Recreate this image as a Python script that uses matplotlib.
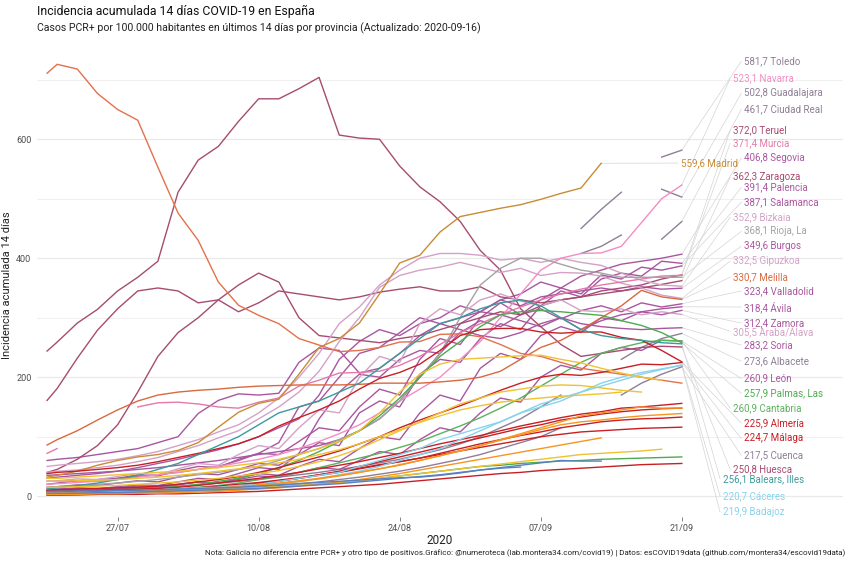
import matplotlib
matplotlib.use("Agg")
import matplotlib.pyplot as plt
import matplotlib.dates as mdates
import numpy as np
import pandas as pd

N = None

# ── eje temporal: día 0 = 20/07/2020, luego días impares hasta el 63 (21/09) ──
DIAS = [0] + list(range(1, 64, 2))

# ── Castilla-La Mancha ──
toledo = [N] * 27 + [408, 420, 439, N, 570, 581.7]
guadalajara = [N] * 27 + [450, 482, 511, N, 516, 502.8]
ciudad_real = [N] * 30 + [N, 432, 461.7]
albacete = [10, 10, 11, 12, 13, 14, 15, 17, 19, 22, 25, 28, 32, 36, 40, 45, 50, 56, 62, 70, 78, 88,
            100, 115, 130, 150, 170, N, N, 230, 250, 265, 273.6]
cuenca = [5, 5, 5, 6, 6, 7, 8, 9, 10, 12, 14, 16, 18, 21, 24, 28, 32, 37, 42, 48, 55, 62,
          70, 80, 90, 100, 115, N, N, 170, 190, 205, 217.5]

# ── Castilla y León ──
segovia = [30, 32, 35, 38, 42, 48, 55, 62, 70, 78, 88, 100, 115, 130, 170, 230, 260, 280, 270, 290, 300, 320,
           310, 330, 340, 360, 350, 370, 380, 390, 395, 400, 406.8]
palencia = [15, 16, 19, 18, 22, 26, 24, 32, 38, 36, 45, 55, 52, 70, 90, 85, 140, 160, 150, 205, 230, 225,
            265, 290, 280, 320, 345, 335, 365, 375, 370, 395, 391.4]
salamanca = [20, 22, 26, 25, 30, 36, 34, 43, 50, 48, 62, 72, 70, 92, 115, 110, 150, 180, 170, 230, 265, 255,
             300, 325, 305, 330, 350, 340, 372, 365, 385, 380, 387.1]
burgos = [60, 62, 65, 70, 75, 80, 90, 100, 139, 161, 172, 170, 173, 225, 249, 245, 207, 215, 240, 270, 290, 300,
          310, 330, 320, 335, 340, 345, 350, 345, 352, 348, 349.6]
valladolid = [10, 11, 13, 12, 16, 19, 18, 24, 30, 28, 38, 48, 45, 72, 130, 175, 205, 200, 230, 245, 240, 275,
              295, 285, 305, 315, 298, 312, 320, 310, 325, 318, 323.4]
avila = [25, 25, 26, 28, 30, 33, 36, 40, 45, 50, 60, 72, 90, 150, 160, 200, 240, 250, 275, 300, 290, 280,
         270, 265, 275, 290, 300, 280, 295, 305, 310, 315, 318.4]
zamora = [8, 8, 10, 9, 12, 15, 14, 19, 24, 22, 30, 38, 35, 50, 62, 58, 80, 100, 95, 140, 170, 160,
          215, 240, 230, 270, 285, 275, 300, 295, 310, 305, 312.4]
soria = [35, 36, 38, 40, 42, 45, 48, 52, 56, 60, 65, 70, 75, 80, 85, 95, 110, 130, 160, 200, 240, 290,
         310, 305, 295, 285, 300, 290, 285, 282, 280, 282, 283.2]
leon = [12, 12, 14, 13, 15, 17, 16, 20, 24, 22, 28, 34, 32, 40, 48, 45, 60, 75, 70, 95, 115, 108,
        140, 165, 158, 200, 220, 212, 240, 250, 245, 262, 260.9]

# ── Aragón ──
zaragoza = [161, 181, 232, 279, 315, 345, 350, 345, 325, 330, 310, 325, 345, 340, 335, 330, 335, 343, 348, 352, 345, 345,
            352, 335, 330, 325, 330, 335, 340, 345, 350, 356, 362.3]
huesca = [244, 259, 291, 314, 345, 368, 395, 511, 565, 588, 630, 668, 668, 685, 704, 607, 602, 600, 555, 520, 495, 462,
          413, 380, 315, 285, 255, 235, 240, 245, 250, 252, 250.8]
teruel = [40, 45, 62, 85, 120, 175, 235, 275, 300, 330, 355, 375, 360, 300, 270, 266, 262, 258, 265, 270, 280, 290,
          300, 310, 305, 320, 330, 335, 345, 350, 355, 365, 372.0]

# ── País Vasco ──
bizkaia = [50, 52, 55, 58, 62, 68, 75, 85, 95, 108, 120, 140, 165, 200, 240, 290, 318, 355, 380, 400, 408, 408,
           405, 397, 400, 393, 400, 393, 388, 375, 363, 355, 352.9]
gipuzkoa = [40, 42, 44, 48, 52, 58, 65, 75, 85, 98, 110, 130, 150, 175, 210, 260, 300, 351, 371, 380, 385, 393,
            385, 376, 383, 371, 376, 375, 370, 358, 350, 338, 332.5]
araba = [25, 26, 29, 28, 33, 38, 36, 46, 55, 52, 70, 85, 80, 115, 145, 140, 200, 235, 225, 290, 315, 305,
         330, 340, 328, 320, 330, 312, 310, 315, 305, 310, 305.5]

# ── resto ──
navarra = [20, 21, 23, 25, 28, 32, 36, 40, 45, 50, 56, 62, 70, 80, 92, 105, 120, 140, 160, 180, 200, 230,
           260, 300, 340, 380, 400, 408, 409, 420, 460, 500, 523.1]
murcia = [72, 80, N, N, N, 150, 157, 158, 155, 150, 148, 158, 165, 185, 195, 207, 208, 210, 220, 235, 255, 275,
          290, 305, 318, 330, 340, 348, 355, 360, 365, 370, 371.4]
madrid = [32, 35, 42, 52, 60, 66, 70, 77, 90, 116, 141, 156, 163, 205, 250, 265, 291, 340, 392, 405, 444, 470,
          477, 484, 490, 499, 509, 518, 559.6, N, N, N, N]
rioja = [15, 16, 18, 20, 22, 25, 28, 32, 36, 40, 45, 50, 60, 70, 80, 95, 110, 130, 160, 200, 240, 300,
         355, 383, 400, 400, 390, 380, 375, 368, 368, 368, 368.1]
melilla = [86, 95, 110, 128, 145, 160, 170, 175, 178, 180, 183, 185, 186, 187, 187, 187, 188, 190, 190, 190, 192, 195,
           200, 210, 230, 250, 262, 280, 300, 320, 346, 335, 330.7]
lleida = [711, 726, 718, 677, 650, 632, 553, 476, 430, 360, 321, 304, 290, 265, 254, 243, 245, 250, 259, 260, 272, 273,
          268, 255, 240, 235, 225, 215, 210, 205, 200, 195, 190]
palmas = [8, 8, 9, 10, 11, 12, 14, 16, 20, 25, 30, 38, 48, 60, 75, 92, 110, 135, 165, 200, 235, 260,
          285, 305, 310, 312, 310, 307, 304, 295, 287, 275, 257.9]
santa_cruz = [4, 4, 5, 5, 6, 6, 7, 8, 9, 10, 12, 14, 16, 18, 20, 23, 26, 30, 34, 38, 42, 46,
              50, 52, 55, 57, 59, 60, 62, 63, 64, 65, 66]
cantabria = [5, 5, 6, 7, 8, 9, 10, 12, 15, 18, 22, 28, 34, 40, 48, 56, 64, 72, 82, 92, 105, 118,
             132, 148, 165, 185, 205, 225, 240, 250, 258, 262, 260.9]
almeria = [38, 40, 42, 45, 48, 52, 58, 65, 72, 80, 88, 100, 118, 132, 145, 160, 180, 198, 208, 222, 245, 270,
           280, 282, 282, 276, 274, 276, 276, 267, 262, 245, 225.9]
malaga = [10, 11, 12, 13, 14, 15, 17, 20, 24, 28, 33, 40, 48, 57, 66, 76, 88, 100, 115, 128, 140, 152,
          165, 178, 190, 200, 205, 203, 208, 215, 222, 221, 224.7]
granada = [8, 8, 9, 10, 11, 12, 13, 15, 18, 22, 26, 30, 35, 40, 46, 52, 58, 65, 72, 80, 88, 95,
           102, 110, 118, 125, 132, 138, 142, 148, 150, 153, 156]
cordoba = [3, 3, 4, 4, 5, 6, 7, 9, 12, 15, 18, 22, 26, 30, 35, 40, 46, 52, 58, 64, 72, 80,
           88, 95, 102, 108, 115, 120, 125, 128, 130, 131, 133]
sevilla = [5, 5, 6, 7, 8, 9, 10, 12, 14, 17, 20, 23, 27, 31, 36, 41, 47, 53, 58, 64, 70, 76,
           82, 88, 94, 100, 104, 108, 110, 112, 114, 115, 116]
cadiz = [2, 2, 3, 3, 4, 5, 6, 8, 10, 13, 16, 20, 25, 30, 36, 42, 50, 58, 66, 74, 82, 90,
         98, 106, 114, 120, 128, 133, 138, 142, 145, 147, 148]
jaen = [2, 2, 2, 3, 3, 3, 4, 4, 5, 6, 7, 8, 10, 12, 14, 16, 18, 20, 23, 26, 29, 32,
        35, 38, 40, 43, 45, 47, 49, 51, 53, 54, 55]
balears = [12, 14, 18, 22, 28, 35, 45, 55, 70, 85, 100, 120, 140, 150, 160, 175, 190, 215, 240, 265, 290, 300,
           315, 325, 330, 320, 300, 280, 270, 265, 262, 258, 256.1]
caceres = [5, 5, 6, 6, 7, 8, 10, 12, 14, 15, 18, 20, 25, 30, 35, 40, 50, 60, 70, 80, 95, 105,
           115, 125, 140, 150, 160, 175, 185, 195, 205, 213, 220.7]
badajoz = [3, 3, 4, 5, 5, 6, 7, 8, 10, 12, 14, 17, 20, 24, 30, 36, 42, 50, 60, 70, 80, 95,
           110, 125, 140, 155, 165, 175, 190, 200, 208, 214, 219.9]
barcelona = [30, 30, 32, 34, 36, 38, 40, 42, 45, 48, 52, 56, 62, 70, 80, 92, 110, 140, 175, 205, 222, 230,
             232, 234, 236, 237, 230, 224, 215, 207, 200, 195, N]
girona = [15, 15, 16, 17, 18, 20, 22, 24, 27, 30, 34, 38, 43, 50, 58, 68, 80, 95, 110, 125, 140, 155,
          165, 175, 180, 185, 187, 186, 182, 178, 175, N, N]
tarragona = [25, 25, 26, 27, 28, 30, 32, 35, 38, 42, 46, 50, 56, 62, 70, 78, 88, 100, 112, 124, 135, 145,
             152, 158, 162, 165, 168, 170, 172, 175, N, N, N]
ceuta = [5, 5, 6, 6, 7, 7, 8, 9, 10, 11, 12, 14, 16, 18, 20, 23, 26, 30, 34, 38, 42, 46,
         50, 54, 58, 62, 66, 70, 72, 74, 76, 79, N]
valencia = [5, 5, 6, 6, 7, 8, 9, 10, 12, 14, 16, 19, 22, 26, 30, 35, 40, 46, 52, 60, 68, 76,
            85, 95, 105, 115, 125, 135, 140, 145, 150, 148, 148]
alicante = [4, 4, 5, 5, 6, 7, 8, 9, 11, 13, 15, 18, 21, 25, 29, 34, 40, 46, 53, 60, 68, 76,
            85, 94, 103, 112, 120, 125, 128, 132, 135, 137, 139]
castellon = [3, 3, 3, 4, 4, 5, 5, 6, 7, 8, 10, 12, 14, 17, 20, 24, 28, 33, 38, 44, 50, 56,
             62, 68, 74, 80, 86, 92, 98, N, N, N, N]
coruna = [8, 8, 9, 9, 10, 10, 11, 12, 13, 14, 15, 17, 19, 21, 23, 25, 27, 29, 31, 32, 35, 39,
          44, 47, 49, N, N, N, N, N, N, N, N]
pontevedra = [5, 5, 5, 6, 6, 7, 8, 9, 10, 11, 12, 13, 15, 17, 19, 21, 24, 27, 30, 33, 36, 40,
              44, 48, 52, 56, 60, 59, 59, N, N, N, N]

# ── colores por comunidad ──
C_CLM, C_CYL, C_ARA, C_PV = "#8f7f96", "#a9569f", "#a64c70", "#d4a1c7"
C_NAV, C_MUR, C_MAD, C_RIO = "#f48cc3", "#e47aa9", "#c98b35", "#a3a3a3"
C_MEL, C_LLE, C_CNR, C_CNT = "#d9693f", "#e3714c", "#4dab4f", "#5cb15e"
C_AND, C_BAL, C_EXT = "#c81f25", "#3b9b9b", "#87d3ec"
C_CAT, C_VAL, C_GAL = "#f0c130", "#f7951f", "#5b80c2"

# (nombre, valores, color) — nombre None = sin etiqueta
series = [
    ("Toledo", toledo, C_CLM), ("Guadalajara", guadalajara, C_CLM), ("Ciudad Real", ciudad_real, C_CLM),
    ("Albacete", albacete, C_CLM), ("Cuenca", cuenca, C_CLM),
    ("Segovia", segovia, C_CYL), ("Palencia", palencia, C_CYL), ("Salamanca", salamanca, C_CYL),
    ("Burgos", burgos, C_CYL), ("Valladolid", valladolid, C_CYL), ("Ávila", avila, C_CYL),
    ("Zamora", zamora, C_CYL), ("Soria", soria, C_CYL), ("León", leon, C_CYL),
    ("Zaragoza", zaragoza, C_ARA), ("Huesca", huesca, C_ARA), ("Teruel", teruel, C_ARA),
    ("Bizkaia", bizkaia, C_PV), ("Gipuzkoa", gipuzkoa, C_PV), ("Araba/Álava", araba, C_PV),
    ("Navarra", navarra, C_NAV), ("Murcia", murcia, C_MUR), ("Madrid", madrid, C_MAD),
    ("Rioja, La", rioja, C_RIO), ("Melilla", melilla, C_MEL), (None, lleida, C_LLE),
    ("Palmas, Las", palmas, C_CNR), (None, santa_cruz, C_CNR), ("Cantabria", cantabria, C_CNT),
    ("Almería", almeria, C_AND), ("Málaga", malaga, C_AND), (None, granada, C_AND),
    (None, cordoba, C_AND), (None, sevilla, C_AND), (None, cadiz, C_AND), (None, jaen, C_AND),
    ("Balears, Illes", balears, C_BAL), ("Cáceres", caceres, C_EXT), ("Badajoz", badajoz, C_EXT),
    (None, barcelona, C_CAT), (None, girona, C_CAT), (None, tarragona, C_CAT), (None, ceuta, C_CAT),
    (None, valencia, C_VAL), (None, alicante, C_VAL), (None, castellon, C_VAL),
    (None, coruna, C_GAL), (None, pontevedra, C_GAL),
]

# posición de las etiquetas (día desde 20/07, valor en el eje y)
etiq_nombre = ["Toledo", "Navarra", "Guadalajara", "Ciudad Real", "Teruel", "Murcia", "Segovia", "Madrid",
               "Zaragoza", "Palencia", "Salamanca", "Bizkaia", "Rioja, La", "Burgos", "Gipuzkoa", "Melilla",
               "Valladolid", "Ávila", "Zamora", "Araba/Álava", "Soria", "Albacete", "León", "Palmas, Las",
               "Cantabria", "Almería", "Málaga", "Cuenca", "Huesca", "Balears, Illes", "Cáceres", "Badajoz"]
etiq_dia = [69.2, 68.1, 69.2, 69.2, 68.1, 68.1, 69.2, 62.9,
            68.1, 69.2, 69.2, 68.1, 69.2, 69.2, 68.1, 68.1,
            69.2, 69.2, 69.2, 68.1, 69.2, 69.2, 69.2, 69.2,
            68.1, 69.2, 69.2, 69.2, 68.1, 67.1, 67.1, 67.1]
etiq_y = [731, 702, 677, 650, 615, 593, 568, 560,
          536, 519, 494, 469, 445, 420, 395, 368,
          345, 318, 291, 277, 254, 227, 198, 173,
          148, 123, 97, 69, 45, 29, 0, -27]

TITULO = "Incidencia acumulada 14 días COVID-19 en España"
SUBTITULO = "Casos PCR+ por 100.000 habitantes en últimos 14 días por provincia (Actualizado: 2020-09-16)"
NOTA = ("Nota: Galicia no diferencia entre PCR+ y otro tipo de positivos.Gráfico: @numeroteca "
        "(lab.montera34.com/covid19) | Datos: esCOVID19data (github.com/montera34/escovid19data)")

plt.rcParams["font.family"] = ["Roboto", "DejaVu Sans"]

inicio = pd.Timestamp("2020-07-20")
fechas = inicio + pd.to_timedelta(DIAS, unit="D")

fig = plt.figure(figsize=(8.48, 5.65), dpi=100)
ax = fig.add_axes([37 / 848, 48 / 565, 806 / 848, 464 / 565])

etiq_por_nombre = {n: (d, y) for n, d, y in zip(etiq_nombre, etiq_dia, etiq_y)}

for nombre, valores, color in series:
    v = np.array(valores, dtype=float)
    ax.plot(fechas, v, color=color, lw=1.0, solid_joinstyle="round", zorder=2)
    if nombre is None:
        continue
    i_fin = np.where(~np.isnan(v))[0][-1]
    x_fin, y_fin = fechas[i_fin], v[i_fin]
    d_lab, y_lab = etiq_por_nombre[nombre]
    x_lab = inicio + pd.Timedelta(days=d_lab)
    ax.plot([x_fin, x_lab - pd.Timedelta(days=0.3)], [y_fin, y_lab], color="#d4d4d4", lw=0.5, zorder=1)
    txt = f"{y_fin:.1f}".replace(".", ",") + " " + nombre
    ax.text(x_lab, y_lab, txt, color=color, fontsize=7, ha="left", va="center", zorder=3)

ax.set_xlim(inicio - pd.Timedelta(days=1), inicio + pd.Timedelta(days=79))
ax.set_ylim(-35, 745)

ax.set_xticks(pd.date_range("2020-07-27", periods=5, freq="14D"))
ax.xaxis.set_major_formatter(mdates.DateFormatter("%d/%m"))
ax.set_yticks([0, 200, 400, 600])
ax.set_yticks([100, 300, 500, 700], minor=True)
ax.grid(axis="y", which="major", color="#e9e9e9", lw=0.9)
ax.grid(axis="y", which="minor", color="#f0f0f0", lw=0.7)
ax.set_axisbelow(True)
for s in ax.spines.values():
    s.set_visible(False)
ax.tick_params(axis="x", length=3, width=0.5, color="#555555", labelsize=6.5, labelcolor="#4d4d4d", pad=2)
ax.tick_params(axis="y", which="both", length=0, labelsize=6.5, labelcolor="#4d4d4d", pad=4)

ax.set_ylabel("Incidencia acumulada 14 días", fontsize=8, color="#222222")
ax.yaxis.set_label_coords(-25 / 806, 0.5)
ax.set_xlabel("2020", fontsize=8.5, color="#222222")
ax.xaxis.set_label_coords(0.5, -17 / 464)

fig.text(37 / 848, 1 - 11 / 565, TITULO, fontsize=8.8, color="#111111", va="center", ha="left")
fig.text(37 / 848, 1 - 28 / 565, SUBTITULO, fontsize=7.6, color="#222222", va="center", ha="left")
fig.text(845 / 848, 1 - 553 / 565, NOTA, fontsize=5.8, color="#222222", va="center", ha="right")

fig.savefig("out.png", dpi=100)
